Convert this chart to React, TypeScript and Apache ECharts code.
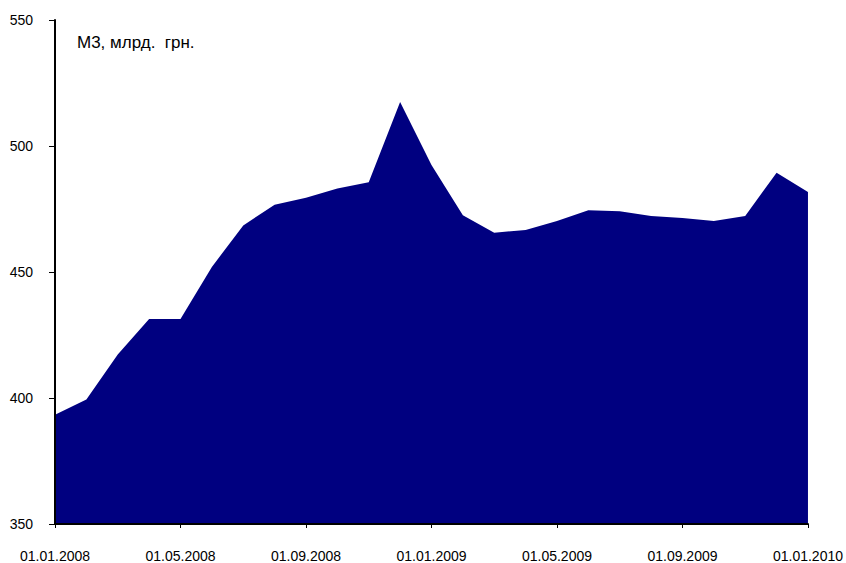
import React, { useEffect, useRef } from "react";
import * as echarts from "echarts";

const categories = [
  "01.01.2008", "01.02.2008", "01.03.2008", "01.04.2008", "01.05.2008", "01.06.2008",
  "01.07.2008", "01.08.2008", "01.09.2008", "01.10.2008", "01.11.2008", "01.12.2008",
  "01.01.2009", "01.02.2009", "01.03.2009", "01.04.2009", "01.05.2009", "01.06.2009",
  "01.07.2009", "01.08.2009", "01.09.2009", "01.10.2009", "01.11.2009", "01.12.2009",
  "01.01.2010",
];

const m3Values = [
  393.4, 399.4, 417.3, 431.3, 431.3, 452.0,
  468.5, 476.7, 479.5, 483.1, 485.6, 517.5,
  492.5, 472.5, 465.6, 466.7, 470.2, 474.5,
  474.1, 472.2, 471.4, 470.2, 472.2, 489.4,
  481.7,
];

const yMin = 350;
const yMax = 550;
const yStep = 50;

const titleText = "М3, млрд.  грн.";

const FONT = "'Liberation Sans', Arial, sans-serif";

export default function App() {
  const ref = useRef<HTMLDivElement>(null);

  useEffect(() => {
    document.body.style.margin = "0";
    if (!ref.current) return;
    const chart = echarts.init(ref.current, undefined, { renderer: "svg" });
    chart.setOption({
      animation: false,
      backgroundColor: "#ffffff",
      grid: { left: 55, right: 34, top: 20, bottom: 39, containLabel: false },
      graphic: [
        {
          type: "text",
          left: 77,
          top: 34,
          style: { text: titleText, font: `17px ${FONT}`, fill: "#000000" },
        },
      ],
      xAxis: {
        type: "category",
        data: categories,
        boundaryGap: false,
        z: 5,
        axisLine: { show: true, lineStyle: { color: "#000000", width: 2 } },
        axisTick: { show: true, interval: 3, length: 4, lineStyle: { color: "#000000", width: 1 } },
        axisLabel: {
          interval: 3,
          margin: 25,
          color: "#000000",
          fontFamily: FONT,
          fontSize: 14,
          showMaxLabel: true,
        },
        splitLine: { show: false },
      },
      yAxis: {
        type: "value",
        min: yMin,
        max: yMax,
        interval: yStep,
        z: 5,
        axisLine: { show: true, lineStyle: { color: "#000000", width: 2 } },
        axisTick: { show: true, length: 6, lineStyle: { color: "#000000", width: 1 } },
        axisLabel: {
          margin: 22,
          color: "#000000",
          fontFamily: FONT,
          fontSize: 14,
        },
        splitLine: { show: false },
      },
      series: [
        {
          type: "line",
          data: m3Values,
          symbol: "none",
          lineStyle: { width: 0, color: "#000080" },
          itemStyle: { color: "#000080" },
          areaStyle: { color: "#000080", opacity: 1 },
        },
      ],
    });
    return () => chart.dispose();
  }, []);

  return <div ref={ref} style={{ width: 846, height: 563 }} />;
}
